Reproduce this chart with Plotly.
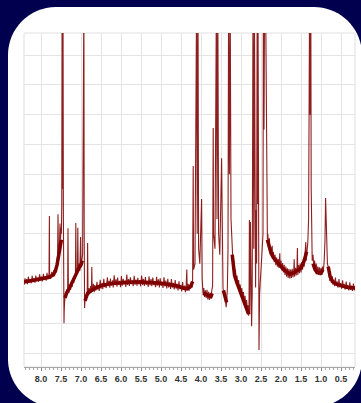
import plotly.graph_objects as go

# ---- spectrum data (ppm, intensity), left to right ----
seg_left = [(8.42,22.9),(8.40,25.1),(8.385,23.6),(8.36,24.8),(8.34,23.1),(8.315,25.6),(8.29,23.7),
            (8.27,24.6),(8.245,23.4),(8.22,25.9),(8.20,23.8),(8.175,25.0),(8.15,23.6),(8.13,26.0),
            (8.105,24.1),(8.08,25.3),(8.06,23.9),(8.035,26.4),(8.01,24.4),(7.99,25.6),(7.965,24.0),
            (7.94,26.6),(7.92,24.6),(7.895,25.7),(7.87,24.3),(7.85,26.9),(7.83,24.8),(7.81,26.2),
            (7.80,25.3),(7.79,46.0),(7.785,25.8),(7.76,24.9),(7.73,27.2),
            (7.70,25.6),(7.68,27.8),(7.66,25.8),(7.64,28.5),(7.62,27.0),(7.61,30.0),(7.60,29.0),
            (7.585,33.0),(7.575,46.6),(7.565,34.0),(7.55,37.0),(7.54,35.0),(7.525,43.5),(7.515,38.0),
            (7.50,42.0),(7.49,40.0),(7.48,50.0),(7.47,120),(7.46,55.0),(7.45,120),(7.44,45.0),
            (7.43,18.0),(7.425,10.0),(7.42,14.0)]
seg_arom = [(7.41,17.0),(7.39,20.0),(7.37,18.5),(7.35,21.5),(7.335,20.0),(7.325,41.9),(7.315,21.0),
            (7.30,20.2),(7.28,23.0),(7.26,21.2),(7.24,24.0),(7.22,22.2),(7.20,25.0),(7.18,23.5),
            (7.16,26.2),(7.14,24.8),(7.13,43.6),(7.12,26.5),(7.10,28.5),(7.09,26.5),(7.08,42.0),
            (7.07,28.0),(7.05,30.0),(7.03,27.5),(7.01,38.9),(7.00,29.0),(6.98,31.0),(6.96,33.0),
            (6.95,60.0),(6.945,120),(6.935,80.0),(6.928,120),(6.92,40.0),(6.91,15.1),(6.895,19.0),
            (6.88,17.5),(6.86,20.5),(6.845,19.0),(6.835,36.9),(6.825,20.0),(6.80,21.8),(6.78,19.8),
            (6.76,22.5),(6.74,20.2),(6.73,28.9),(6.72,20.5),(6.70,22.0)]
seg_flat = [(6.69,23.2),(6.67,20.4),(6.655,22.8),(6.63,20.9),(6.60,23.9),(6.585,21.3),(6.57,22.6),
            (6.545,20.8),(6.52,24.6),(6.50,21.6),(6.47,23.5),(6.455,21.4),(6.43,24.9),(6.41,22.1),
            (6.395,23.2),(6.37,21.8),(6.34,25.4),(6.325,22.4),(6.30,24.2),(6.28,21.9),(6.265,25.0),
            (6.24,22.6),(6.21,24.4),(6.195,22.0),(6.17,26.1),(6.15,22.8),(6.125,24.7),(6.10,22.3),
            (6.085,25.3),(6.06,22.9),(6.035,24.2),(6.01,22.1),(5.99,25.8),(5.97,22.6),(5.945,24.9),
            (5.925,23.0),(5.90,24.4),(5.88,22.2),(5.855,26.3),(5.835,22.8),(5.81,24.8),(5.79,22.5),
            (5.765,25.4),(5.74,23.1),(5.72,24.3),(5.695,22.4),(5.67,25.9),(5.65,22.9),(5.625,24.6),
            (5.60,22.6),(5.58,25.2),(5.555,23.0),(5.53,24.5),(5.51,22.3),(5.485,26.0),(5.46,22.8),
            (5.44,24.9),(5.415,22.5),(5.39,25.5),(5.37,22.9),(5.345,24.1),(5.32,22.2),(5.30,25.7),
            (5.275,22.7),(5.25,24.8),(5.23,22.4),(5.205,25.3),(5.18,22.8),(5.16,24.0),(5.135,22.1),
            (5.11,25.6),(5.09,22.6),(5.065,24.7),(5.04,22.0),(5.02,25.1),(4.995,22.5),(4.97,23.9),
            (4.95,21.8),(4.925,25.4),(4.90,22.3),(4.88,24.3),(4.855,21.7),(4.83,24.9),(4.81,22.0),
            (4.785,23.7),(4.76,21.5),(4.74,24.8),(4.715,21.9),(4.69,23.5),(4.67,21.3),(4.645,24.5),
            (4.62,21.6),(4.60,23.2),(4.575,21.0),(4.55,24.1),(4.53,21.4),(4.505,22.9),(4.48,20.7),
            (4.46,23.8),(4.435,21.2),(4.41,22.6),(4.39,20.4),(4.37,22.8),(4.355,28.0),(4.345,21.3),
            (4.32,23.2),(4.30,20.8),(4.28,22.9),(4.26,21.5),(4.24,23.6),(4.225,21.9),(4.21,24.5)]
seg_mid = [(4.195,62.8),(4.185,28.0),(4.15,30.0),(4.11,120),(4.095,40.0),(4.075,120),(4.06,35.0),
           (4.03,30.0),(3.985,51.7),(3.97,25.0),(3.95,20.0),(3.93,21.8),(3.91,18.8),(3.89,21.0),
           (3.87,18.5),(3.85,21.2),(3.83,18.0),(3.81,20.5),(3.79,17.8),(3.77,20.2),(3.75,18.2),
           (3.73,21.0),(3.71,22.5),(3.695,75.5),(3.685,40.0),(3.65,35.0),(3.615,120),(3.60,45.0),
           (3.58,120),(3.56,40.0),(3.53,33.0),(3.485,65.4),(3.47,28.0),(3.45,22.0),(3.43,19.5),
           (3.41,21.0),(3.39,17.5),(3.37,15.4),(3.355,18.0),(3.34,22.0),(3.325,35.0),(3.31,120),
           (3.29,60.0),(3.27,120),(3.25,45.0),(3.235,38.0)]
seg_decay = [(3.22,36.0),(3.20,30.0),(3.18,31.0),(3.16,26.0),(3.14,28.0),(3.12,23.5),(3.10,26.0),
             (3.08,22.0),(3.06,24.5),(3.04,21.0),(3.02,23.0),(3.00,19.5),(2.98,21.8),(2.96,18.5),
             (2.94,20.5),(2.92,17.0),(2.90,19.2),(2.88,16.0),(2.86,17.8),(2.84,14.5),(2.82,16.0),
             (2.81,12.5)]
seg_dmso = [(2.80,14.0),(2.79,44.6),(2.78,13.0),(2.765,44.0),(2.745,12.0),(2.735,9.0),(2.72,20.0),
            (2.70,120),(2.68,35.0),(2.665,120),(2.645,48.7),(2.635,22.0),(2.625,48.0),(2.61,30.0),
            (2.595,120),(2.585,50.0),(2.575,120),(2.56,30.0),(2.55,1.0),(2.535,20.0),(2.52,25.0),
            (2.50,28.0),(2.47,35.0),(2.45,40.0),(2.44,120),(2.425,75.0),(2.41,120),(2.385,120),
            (2.375,92.0),(2.37,74.0),(2.36,45.0),(2.35,40.0),(2.34,38.0)]
seg_aliph = [(2.33,40.0),(2.31,36.0),(2.29,38.5),(2.27,33.5),(2.25,35.5),(2.23,32.5),(2.22,36.0),
             (2.21,32.0),(2.19,34.0),(2.17,30.5),(2.15,33.0),(2.13,29.5),(2.11,32.0),(2.09,29.0),
             (2.07,31.5),(2.05,28.5),(2.03,33.5),(2.02,28.8),(2.00,31.0),(1.98,27.8),(1.96,30.2),
             (1.94,27.0),(1.92,29.6),(1.90,26.2),(1.88,29.0),(1.86,25.6),(1.84,28.4),(1.82,25.2),
             (1.80,28.2),(1.78,25.0),(1.76,28.0),(1.74,25.2),(1.72,28.3),(1.70,25.4),(1.68,28.0),
             (1.67,31.5),(1.66,25.6),(1.64,28.6),(1.62,26.0),(1.60,29.0),(1.59,35.2),(1.58,26.2),
             (1.56,29.5),(1.54,26.8),(1.52,30.0),(1.50,27.0),(1.48,30.5),(1.46,28.0),(1.44,31.5),
             (1.42,29.0),(1.40,33.0),(1.38,37.2),(1.37,31.0),(1.35,35.0),(1.33,37.0),(1.31,45.0),
             (1.30,70.0),(1.285,120),(1.27,80.0),(1.255,120),(1.245,55.0),(1.235,38.0),(1.22,31.0),
             (1.20,33.0),(1.18,29.0),(1.16,31.0),(1.14,27.5),(1.12,30.0),(1.10,26.5),(1.08,29.0),
             (1.06,26.2),(1.04,28.8),(1.02,26.0),(1.00,28.6),(0.98,26.2),(0.96,29.0),(0.94,27.5),
             (0.92,31.0),(0.90,38.0),(0.885,52.0),(0.875,45.0),(0.86,36.0),(0.84,30.0),(0.82,29.0)]
seg_right = [(0.80,27.0),(0.78,24.2),(0.765,26.0),(0.74,23.5),(0.72,25.8),(0.70,22.9),(0.685,24.6),
             (0.66,22.4),(0.64,25.3),(0.62,22.6),(0.595,24.0),(0.575,21.9),(0.55,24.8),(0.53,22.1),
             (0.51,23.5),(0.485,21.6),(0.46,24.4),(0.44,21.9),(0.42,23.2),(0.395,21.3),(0.37,24.0),
             (0.35,21.5),(0.33,22.9),(0.305,21.0),(0.28,23.7),(0.26,21.2),(0.24,22.6),(0.215,20.8),
             (0.19,23.3),(0.17,21.0),(0.15,22.4)]

# noise-band centre line (None = gap at peak clusters)
band = [(8.425,23.8),(8.2,24.4),(8.0,24.9),(7.8,25.4),(7.7,26.2),(7.64,27.5),(7.6,29.5),(7.56,33.0),
        (7.52,36.0),(7.49,38.0),(None,None),
        (7.40,18.5),(7.35,20.5),(7.30,21.5),(7.25,23.0),(7.20,24.5),(7.15,26.0),(7.10,27.5),
        (7.05,28.5),(7.0,29.5),(6.97,31.0),(None,None),
        (6.90,17.5),(6.85,19.5),(6.80,20.5),(6.75,21.0),(6.70,21.3),(6.6,22.0),(6.5,22.6),
        (6.3,23.2),(6.0,23.6),(5.7,23.8),(5.5,23.8),(5.2,23.6),(5.0,23.4),(4.8,23.0),(4.6,22.5),
        (4.45,21.8),(4.35,21.5),(4.25,22.5),(4.21,24.0),(None,None),
        (3.95,20.0),(3.85,19.5),(3.75,19.0),(3.72,20.0),(None,None),
        (3.44,21.0),(3.40,18.5),(3.36,17.0),(None,None),
        (3.22,33.0),(3.16,26.0),(3.10,23.5),(3.0,20.0),(2.92,17.5),(2.85,14.8),(2.81,13.0),(None,None),
        (2.34,38.0),(2.30,35.5),(2.25,33.5),(2.19,32.0),(2.11,30.5),(2.03,29.5),(1.94,28.0),
        (1.85,27.0),(1.775,26.5),(1.70,26.8),(1.60,27.5),(1.50,28.5),(1.42,31.0),(1.36,34.0),(None,None),
        (1.20,30.0),(1.15,28.0),(1.10,27.0),(1.00,26.8),(0.95,28.0),(None,None),
        (0.82,29.0),(0.77,25.5),(0.70,23.8),(0.6,23.0),(0.5,22.6),(0.36,22.1),(0.15,21.8)]

x_ticks = [8.0, 7.5, 7.0, 6.5, 6.0, 5.5, 5.0, 4.5, 4.0, 3.5, 3.0, 2.5, 2.0, 1.5, 1.0, 0.5]
x_labels = ["%.1f" % t for t in x_ticks]

spectrum = seg_left + seg_arom + seg_flat + seg_mid + seg_decay + seg_dmso + seg_aliph + seg_right
spec_ppm = [p for p, v in spectrum]
spec_int = [v for p, v in spectrum]
band_ppm = [p for p, v in band]
band_int = [v for p, v in band]

W, H = 361, 403
L, R, T, B = 24, 6, 33, 36
pw, ph = W - L - R, H - T - B

def px(xp):
    return (xp - L) / pw

def py(yp):
    return (H - B - yp) / ph

# rounded white card (pixel geometry -> paper coords)
cl, ct, cr, cb, rad = 8, 7, 362, 407, 48
k = 0.5523
def P(xp, yp):
    return "%.5f,%.5f" % (px(xp), py(yp))
card = ("M " + P(cl + rad, ct) + " L " + P(cr - rad, ct) +
        " C " + P(cr - rad + k * rad, ct) + " " + P(cr, ct + rad - k * rad) + " " + P(cr, ct + rad) +
        " L " + P(cr, cb - rad) +
        " C " + P(cr, cb - rad + k * rad) + " " + P(cr - rad + k * rad, cb) + " " + P(cr - rad, cb) +
        " L " + P(cl + rad, cb) +
        " C " + P(cl + rad - k * rad, cb) + " " + P(cl, cb - rad + k * rad) + " " + P(cl, cb - rad) +
        " L " + P(cl, ct + rad) +
        " C " + P(cl, ct + rad - k * rad) + " " + P(cl + rad - k * rad, ct) + " " + P(cl + rad, ct) + " Z")

fig = go.Figure()
fig.add_trace(go.Scatter(x=band_ppm, y=band_int, mode="lines", connectgaps=False,
                         line=dict(color="#7d0000", width=3.5), hoverinfo="skip", showlegend=False))
fig.add_trace(go.Scatter(x=spec_ppm, y=spec_int, mode="lines",
                         line=dict(color="rgba(128,0,0,0.88)", width=1.1), showlegend=False))

fig.update_layout(
    width=W, height=H, autosize=False,
    margin=dict(l=L, r=R, t=T, b=B, pad=0),
    paper_bgcolor="#00004f", plot_bgcolor="white",
    shapes=[dict(type="path", xref="paper", yref="paper", path=card,
                 fillcolor="white", line=dict(width=0), layer="below")],
    xaxis=dict(range=[8.425, 0.15], tickvals=x_ticks, ticktext=x_labels,
               showgrid=True, gridcolor="#e4e4e4", gridwidth=1, zeroline=False,
               showline=True, linecolor="#a8a8a8", linewidth=1, mirror=False,
               ticks="outside", ticklen=3, tickcolor="#888", tickwidth=1,
               minor=dict(dtick=0.1, ticks="outside", ticklen=2, tickcolor="#aaa", showgrid=False),
               tickfont=dict(family="Liberation Sans", size=9, color="#333333", weight="bold")),
    yaxis=dict(range=[-4.7, 107.4], dtick=10, tick0=0, showticklabels=False,
               showgrid=True, gridcolor="#e4e4e4", gridwidth=1, zeroline=False,
               showline=False, ticks=""),
)
# light frame around the plot area
fig.add_shape(type="rect", xref="paper", yref="paper", x0=0, y0=0, x1=1, y1=1,
              line=dict(color="#e0e0e0", width=1), layer="below")

fig.write_html("out.html", config={"displayModeBar": False},
               post_script="document.body.style.margin='0';")
